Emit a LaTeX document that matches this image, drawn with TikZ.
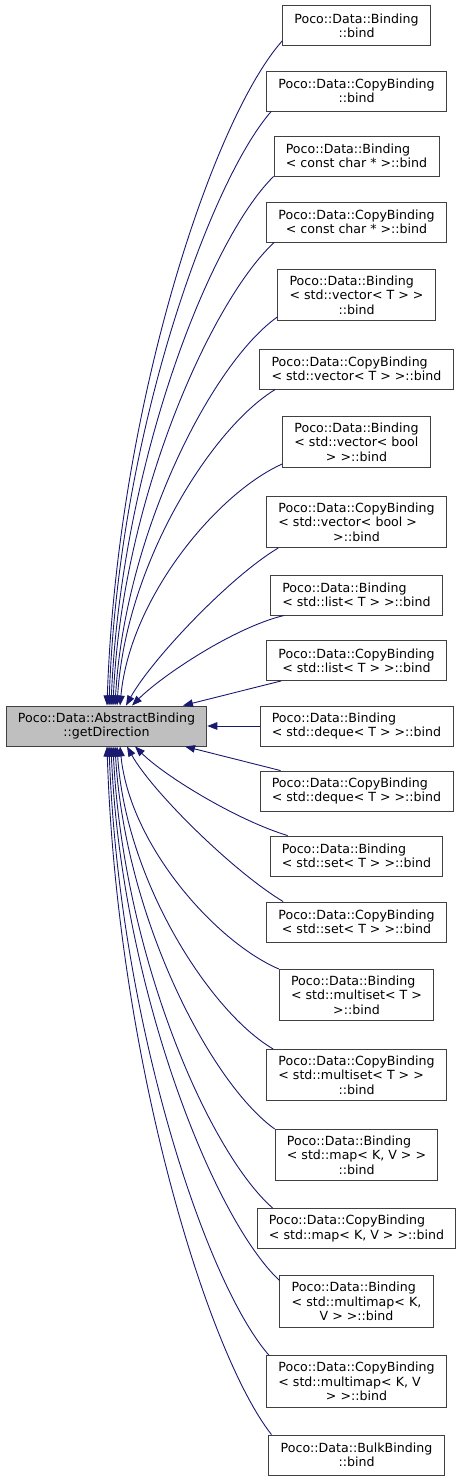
\documentclass[tikz,border=0pt]{standalone}
\usepackage{fontspec}
\setmainfont{DejaVu Sans}
\usepackage{tikz}
\usetikzlibrary{arrows.meta,positioning}
\definecolor{dxedge}{RGB}{25,25,112}
\definecolor{dxframe}{RGB}{64,64,64}
\definecolor{dxfill}{RGB}{191,191,191}
\tikzset{
  fn/.style={draw=dxframe, line width=0.9pt, fill=white,
    font=\fontsize{12.6}{14.4}\selectfont, align=left,
    inner xsep=11.8pt, inner ysep=6.3pt, minimum height=40pt},
  fnroot/.style={fn, fill=dxfill},
  call/.style={dxedge, line width=0.9pt, -{Triangle[length=10pt,width=7.5pt]}}
}

\begin{document}
\begin{tikzpicture}[x=1pt, y=-1pt]
  \useasboundingbox (0,0) rectangle (463,1481);
  % Called function
  \node[fnroot] (getdir) at (106.5,726) {Poco::Data::AbstractBinding\\\hfill::getDirection\hfill\null};
  % Callers
  \node[fn] (bind) at (356.5,25.5) {Poco::Data::Binding\\\hfill::bind\hfill\null};
  \node[fn] (copybind) at (356.5,91) {Poco::Data::CopyBinding\\\hfill::bind\hfill\null};
  \node[fn] (bindcc) at (356.5,156) {Poco::Data::Binding\\\hfill< const char * >::bind\hfill\null};
  \node[fn] (copybindcc) at (356.5,222) {Poco::Data::CopyBinding\\\hfill< const char * >::bind\hfill\null};
  \node[fn] (bindvec) at (356.5,295) {Poco::Data::Binding\\< std::vector< T > >\\\hfill::bind\hfill\null};
  \node[fn] (copybindvec) at (356.5,369) {Poco::Data::CopyBinding\\\hfill< std::vector< T > >::bind\hfill\null};
  \node[fn] (bindvb) at (356.5,442) {Poco::Data::Binding\\< std::vector< bool\\\hfill> >::bind\hfill\null};
  \node[fn] (copybindvb) at (356.5,522) {Poco::Data::CopyBinding\\< std::vector< bool >\\\hfill>::bind\hfill\null};
  \node[fn] (bindlist) at (356.5,595) {Poco::Data::Binding\\\hfill< std::list< T > >::bind\hfill\null};
  \node[fn] (copybindlist) at (356.5,660.5) {Poco::Data::CopyBinding\\\hfill< std::list< T > >::bind\hfill\null};
  \node[fn] (binddeque) at (356.5,726) {Poco::Data::Binding\\\hfill< std::deque< T > >::bind\hfill\null};
  \node[fn] (copybinddeque) at (356.5,791) {Poco::Data::CopyBinding\\\hfill< std::deque< T > >::bind\hfill\null};
  \node[fn] (bindset) at (356.5,856) {Poco::Data::Binding\\\hfill< std::set< T > >::bind\hfill\null};
  \node[fn] (copybindset) at (356.5,922) {Poco::Data::CopyBinding\\\hfill< std::set< T > >::bind\hfill\null};
  \node[fn] (bindmset) at (356.5,995) {Poco::Data::Binding\\< std::multiset< T >\\\hfill>::bind\hfill\null};
  \node[fn] (copybindmset) at (356.5,1075) {Poco::Data::CopyBinding\\< std::multiset< T > >\\\hfill::bind\hfill\null};
  \node[fn] (bindmap) at (356.5,1155) {Poco::Data::Binding\\< std::map< K, V > >\\\hfill::bind\hfill\null};
  \node[fn] (copybindmap) at (356.5,1228.5) {Poco::Data::CopyBinding\\\hfill< std::map< K, V > >::bind\hfill\null};
  \node[fn] (bindmmap) at (356.5,1301.5) {Poco::Data::Binding\\< std::multimap< K,\\\hfill V > >::bind\hfill\null};
  \node[fn] (copybindmmap) at (356.5,1381.5) {Poco::Data::CopyBinding\\< std::multimap< K, V\\\hfill> >::bind\hfill\null};
  \node[fn] (bulkbind) at (356.5,1455) {Poco::Data::BulkBinding\\\hfill::bind\hfill\null};
  % Calls from above
  \draw[call] ([yshift=5]bind.south west) .. controls +(-70,79) and +(10,-297) .. ([xshift=0.5]getdir.north);
  \draw[call] ([xshift=5]copybind.south west) .. controls +(-62,71) and +(9,-268) .. ([xshift=2.5]getdir.north);
  \draw[call] (bindcc.south west) .. controls +(-65,64) and +(10,-239) .. ([xshift=4.5]getdir.north);
  \draw[call] ([xshift=8]copybindcc.south west) .. controls +(-61,56) and +(9,-209) .. ([xshift=6.5]getdir.north);
  \draw[call] ([yshift=4]bindvec.south west) .. controls +(-65,46) and +(10,-173) .. ([xshift=8.5]getdir.north);
  \draw[call] ([xshift=16]copybindvec.south west) .. controls +(-63,38) and +(9,-143) .. ([xshift=10.5]getdir.north);
  \draw[call] ([yshift=4]bindvb.south west) .. controls +(-65,29) and +(10,-108) .. ([xshift=13.5]getdir.north);
  \draw[call] ([xshift=12]copybindvb.south west) .. controls +(-50,30) and +(25,-45) .. ([xshift=19.5]getdir.north);
  \draw[call] ([xshift=14]bindlist.south west) .. controls +(-50,12) and +(30,-30) .. ([xshift=25.5]getdir.north);
  \draw[call] ([xshift=15]copybindlist.south west) -- ([xshift=76.5]getdir.north);
  % Call from the side
  \draw[call] (binddeque.west) -- (getdir.east);
  % Calls from below
  \draw[call] ([xshift=21]copybinddeque.north west) -- ([xshift=78.5]getdir.south);
  \draw[call] ([xshift=18]bindset.north west) .. controls +(-50,-15) and +(30,30) .. ([xshift=28.5]getdir.south);
  \draw[call] ([xshift=17]copybindset.north west) .. controls +(-50,-30) and +(25,45) .. ([xshift=20.5]getdir.south);
  \draw[call] (bindmset.north west) .. controls +(-63,-27) and +(10,99) .. ([xshift=13.5]getdir.south);
  \draw[call] ([xshift=7]copybindmset.north west) .. controls +(-62,-36) and +(9,136) .. ([xshift=10.5]getdir.south);
  \draw[call] (bindmap.north west) .. controls +(-64,-46) and +(10,172) .. ([xshift=8.5]getdir.south);
  \draw[call] ([xshift=16]copybindmap.north west) .. controls +(-64,-56) and +(10,208) .. ([xshift=6.5]getdir.south);
  \draw[call] ([yshift=-5]bindmmap.north west) .. controls +(-67,-63) and +(10,238) .. ([xshift=4.5]getdir.south);
  \draw[call] ([xshift=3]copybindmmap.north west) .. controls +(-64,-73) and +(10,274) .. ([xshift=2.5]getdir.south);
  \draw[call] ([xshift=3]bulkbind.north west) .. controls +(-65,-83) and +(10,310) .. ([xshift=0.5]getdir.south);
\end{tikzpicture}
\end{document}
